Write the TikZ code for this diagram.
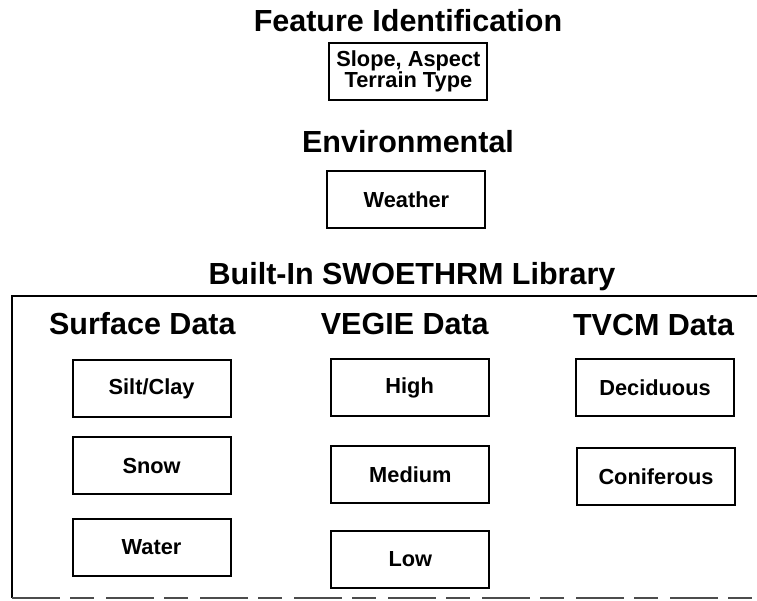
\documentclass[tikz,border=0pt]{standalone}
\usepackage{fontspec}
\setmainfont{Liberation Sans}
\usepackage{tikz}
\tikzset{
	databox/.style={draw, line width=0.5mm, minimum width=3.95cm, minimum height=1.425cm, inner sep=0pt, align=center, font=\fontsize{15.5}{15}\selectfont\bfseries},
	heading/.style={anchor=base, inner sep=0pt, font=\fontsize{21.7}{24}\selectfont\bfseries}
}

\begin{document}
\begin{tikzpicture}
		%%%%% START %%%%%
		\useasboundingbox (0, 0) rectangle (18.925, 15);
		
		\node[heading] (featTitle) at (10.2, 14.2) {Feature Identification};
		\node[databox] (slope) at (10.21, 13.21) {Slope, Aspect\\Terrain Type};
		
		\node[heading] (envTitle) at (10.2, 11.175) {Environmental};
		\node[databox] (weather) at (10.16, 10.0) {Weather};
		
		\node[heading] (libTitle) at (10.3, 7.875) {Built-In SWOETHRM Library};
		\draw[line width=0.5mm] (19.2, 7.6) -- (0.3, 7.6) -- (0.3, 0.05);
		\draw[line width=0.5mm, color=black!70, dash pattern=on 1.2cm off 0.25cm on 0.6cm off 0.3cm] (0.3, 0.05) -- (19.2, 0.05);
		
		\node[heading] (surfTitle) at (3.56, 6.625) {Surface Data};
		\node[databox] (silt) at (3.79, 5.29) {Silt/Clay};
		\node[databox] (snow) at (3.79, 3.35) {Snow};
		\node[databox] (water) at (3.79, 1.31) {Water};
		
		\node[heading] (vegTitle) at (10.12, 6.625) {VEGIE Data};
		\node[databox] (high) at (10.24, 5.31) {High};
		\node[databox] (medium) at (10.26, 3.14) {Medium};
		\node[databox] (low) at (10.26, 1.01) {Low};
		
		\node[heading] (tvcmTitle) at (16.34, 6.6) {TVCM Data};
		\node[databox] (decid) at (16.375, 5.31) {Deciduous};
		\node[databox] (conif) at (16.4, 3.09) {Coniferous};
		
		%%%%% END %%%%%
	\end{tikzpicture}
\end{document}
